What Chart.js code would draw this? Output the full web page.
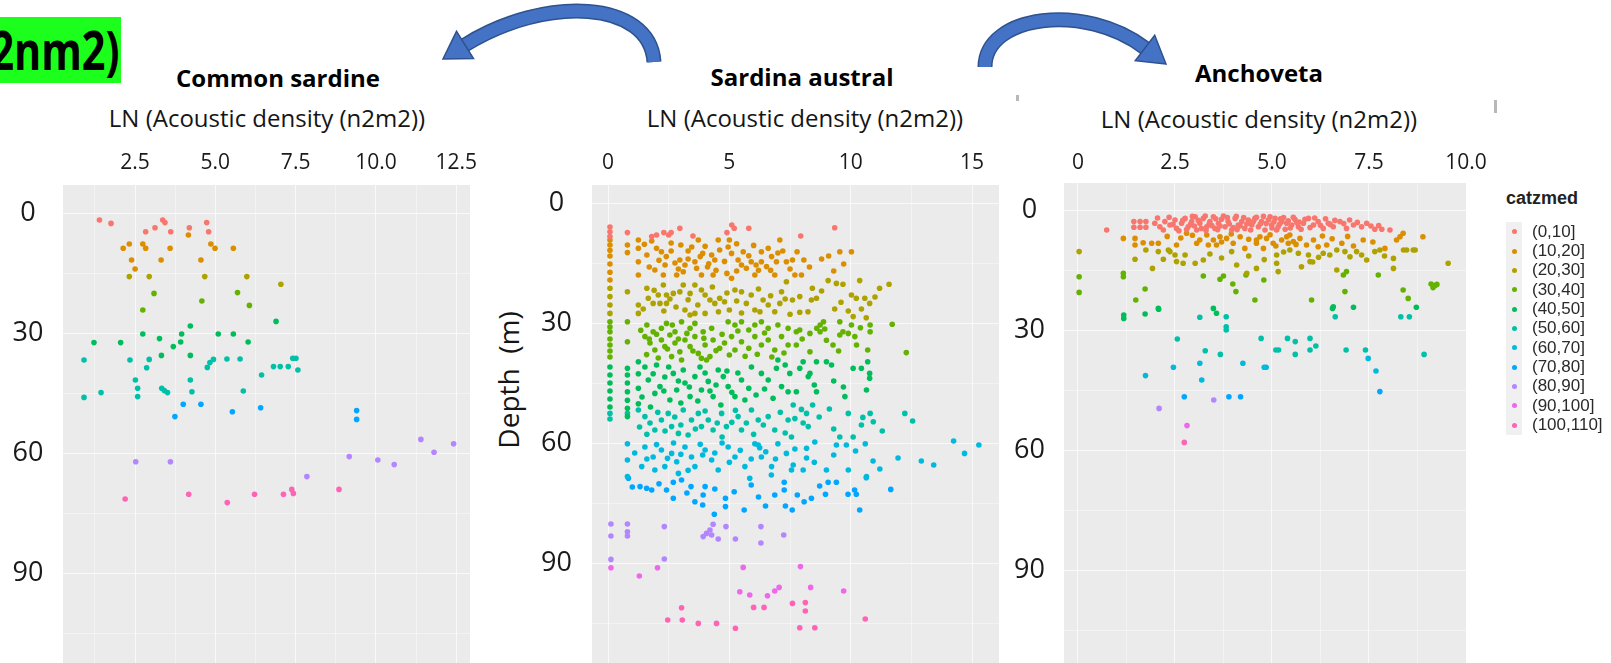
<!DOCTYPE html>
<html>
<head>
<meta charset="utf-8">
<title>Depth vs LN acoustic density</title>
<script src="https://cdn.jsdelivr.net/npm/chart.js@4.4.1/dist/chart.umd.min.js"></script>
<style>
  html, body { margin: 0; padding: 0; background: #fff; overflow: hidden; }
  body { width: 1611px; height: 663px; position: relative; font-family: "Open Sans", sans-serif; color: #111; }
  canvas { position: absolute; }
  .title { position: absolute; font-weight: 700; font-size: 24px; color: #000; transform: translate(-50%, -50%); white-space: nowrap; }
  .axtitle { position: absolute; font-size: 24px; color: #151515; transform: translate(-50%, -50%); white-space: nowrap; }
  #depth { position: absolute; left: 508px; top: 380px; font-size: 28px; color: #151515; transform: translate(-50%, -50%) rotate(-90deg); white-space: pre; }
  #tag { position: absolute; left: 0; top: 17px; width: 121px; height: 66px; background: #1cff1c; overflow: hidden; }
  #tag span { position: absolute; right: 2px; top: 0; line-height: 66px; font-size: 53px; font-weight: 700; color: #000; transform: scaleX(0.78); transform-origin: right center; white-space: nowrap; }
  .legtitle { position: absolute; left: 1506px; top: 188px; font-family: "Liberation Sans", Arial, sans-serif; font-weight: 700; font-size: 18px; color: #222; }
  .keybg { position: absolute; left: 1506px; top: 222px; width: 16px; height: 213px; background: #f0f0f0; }
  .keydot { position: absolute; width: 5px; height: 5px; border-radius: 50%; }
  .keytxt { position: absolute; left: 1532px; height: 20px; line-height: 20px; font-family: "Liberation Sans", Arial, sans-serif; font-size: 17px; color: #2a2a2a; white-space: nowrap; }
  .mark { position: absolute; background: #b8b8b8; }
</style>
</head>
<body>
<svg width="1611" height="663" style="position:absolute;left:0;top:0">
  <g fill="none" stroke-linecap="butt">
    <path d="M654,62 C650,0 545,-5 465,45" stroke="#2F528F" stroke-width="15"/>
    <path d="M654,62 C650,0 545,-5 465,45" stroke="#4472C4" stroke-width="12"/>
    <path d="M985,67 C985,15 1085,2 1145,48" stroke="#2F528F" stroke-width="15"/>
    <path d="M985,67 C985,15 1085,2 1145,48" stroke="#4472C4" stroke-width="12"/>
  </g>
  <polygon points="443,59 473.5,58.6 456.5,31.4" fill="#4472C4" stroke="#2F528F" stroke-width="1.5"/>
  <polygon points="1166,64 1135.3,60.7 1154.7,35.3" fill="#4472C4" stroke="#2F528F" stroke-width="1.5"/>
</svg>

<div id="tag"><span>2nm2)</span></div>

<div class="title" style="left:278px;top:77px">Common sardine</div>
<div class="title" style="left:802px;top:76px">Sardina austral</div>
<div class="title" style="left:1259px;top:72px">Anchoveta</div>

<div class="axtitle" style="left:267px;top:117px">LN (Acoustic density (n2m2))</div>
<div class="axtitle" style="left:805px;top:117px">LN (Acoustic density (n2m2))</div>
<div class="axtitle" style="left:1259px;top:118px">LN (Acoustic density (n2m2))</div>
<div id="depth">Depth  (m)</div>

<div class="mark" style="left:1016px;top:95px;width:3px;height:6px"></div>
<div class="mark" style="left:1494px;top:100px;width:3px;height:13px"></div>

<canvas id="sardine" width="500" height="563" style="left:0px;top:140px"></canvas>
<canvas id="austral" width="509" height="563" style="left:520px;top:140px"></canvas>
<canvas id="anchoveta" width="516" height="563" style="left:990px;top:140px"></canvas>

<div id="legend"></div>

<script>
//depth classes (catzmed) and their colours
const catLabels = ["(0,10]", "(10,20]", "(20,30]", "(30,40]", "(40,50]", "(50,60]", "(60,70]", "(70,80]", "(80,90]", "(90,100]", "(100,110]"];
const catColors = ["#F8766D", "#DB8E00", "#AEA200", "#64B200", "#00BD5C", "#00C1A7", "#00BADE", "#00A6FF", "#B385FF", "#EF67EB", "#FF63B6"];

//tick labels
const depthTicks = [0, 30, 60, 90];
const sardineTicks = [2.5, 5, 7.5, 10, 12.5];
const australTicks = [0, 5, 10, 15];
const anchovetaTicks = [0, 2.5, 5, 7.5, 10];

//points [LN density, depth], one list per depth class
const commonSardine = [
  [[1.39,1.75],[1.75,2.6],[2.83,4.7],[3.12,3.7],[3.36,1.75],[3.43,2.4],[3.61,4.7],[4.19,3.7],[4.73,2.4],[4.79,4.7]],
  [[4.16,5.5],[2.13,8.8],[2.32,7.75],[2.74,7.75],[2.83,8.8],[3.59,8.8],[4.86,7.75],[4.99,8.8],[5.56,8.8],[2.39,11.75],[3.31,11.75],[4.55,11.75],[2.5,14]],
  [[2.32,15.9],[2.94,15.9],[4.67,15.9],[5.98,15.9],[7.04,17.8]],
  [[3.09,20.1],[5.69,19.9],[4.58,22],[6.06,23.1],[2.74,24.25]],
  [[6.89,27.1],[4.22,28.25],[1.22,32.4],[2.05,32.4],[2.74,30.25],[3.26,31.4],[3.69,33.4],[3.95,30.25],[3.92,32.25],[5.09,30.25],[5.56,30.25],[6.02,32.25],[3.32,35.6],[4.22,35.6]],
  [[0.91,36.75],[0.91,46.1],[1.44,44.9],[2.34,36.75],[2.86,38.7],[2.94,36.6],[2.51,41.75],[2.58,43.8],[2.58,45.9],[3.33,43.8],[3.41,44.4],[3.51,44.9],[4.22,41.75],[4.27,44.7],[4.75,38.6],[4.83,37.4],[4.94,36.6],[5.36,36.5],[5.77,36.5],[5.87,44.5],[6.44,40.5],[6.81,38.4],[7.02,38.4],[7.27,38.4],[7.41,36.3],[7.51,36.3],[7.57,39.25]],
  [],
  [[4.0,47.8],[4.55,47.8],[3.74,50.9],[5.53,49.7],[6.41,48.7],[9.4,49.4],[9.4,51.6]],
  [[2.52,62.2],[3.6,62.2],[7.85,65.9],[9.17,60.9],[10.06,61.75],[10.57,62.9],[11.4,56.6],[11.81,59.8],[12.42,57.7]],
  [],
  [[2.19,71.5],[4.17,70.3],[5.37,72.4],[6.22,70.3],[7.12,70.3],[7.38,69.1],[7.43,70.1],[8.85,69.1]]
];

const sardinaAustral = [
  [[0.08,6],[0.08,7.2],[0.08,8.4],[0.8,7.4],[1.8,8.4],[2.0,8],[2.3,7.4],[2.5,8],[2.6,7.4],[2.96,6.3],[3.5,8.25],[4.9,7.4],[5.1,5.5],[5.2,6.3],[5.8,6.3],[7.94,8.25],[9.34,6.2]],
  [[0.08,9.25],[0.08,10.5],[0.08,11.8],[0.08,13.25],[0.08,15.25],[0.08,17.3],[0.08,19.25],[0.8,10.5],[0.8,12.4],[1.25,9.25],[1.25,11.3],[1.25,14.7],[1.25,18],[1.8,9.5],[2.0,11.3],[2.2,12.2],[2.4,13.4],[2.35,15.5],[2.76,15],[2.96,14.25],[3.17,15.5],[1.93,16.75],[2.28,18],[2.83,18],[3.1,17.2],[3.58,14.7],[3.65,16.3],[3.85,18],[3.72,9.25],[4.27,13],[4.4,14.25],[4.6,11.75],[4.54,9.25],[5.0,9.25],[5.09,12.6],[5.36,14.25],[5.5,15.5],[5.7,16.3],[5.57,12.2],[5.9,14.7],[6.05,18],[6.32,12.2],[6.6,11.3],[6.74,13.4],[6.94,14.7],[7.08,9.25],[7.35,14.7],[6.87,18],[4.9,17.6],[5.09,18.8],[4.33,18],[6.32,14.7],[6.53,15.9],[7.79,12.2],[7.6,14.25],[8.07,14.25],[9.09,13.25],[9.55,12.2],[10.03,12.2],[9.71,15.25],[7.7,18],[7.97,18],[3.0,10.5],[3.3,12.0],[4.0,10.8],[4.1,16.0],[5.3,10.2],[6.0,10.6],[6.2,16.8],[7.2,12.0],[2.6,10.0],[3.9,12.6],
   [1.5,10.3],[1.6,13.0],[1.7,16.0],[2.1,14.3],[2.6,12.0],[2.9,16.5],[3.3,14.0],[3.45,11.0],[3.8,13.4],[4.15,15.2],[4.45,16.8],[4.8,14.6],[4.95,11.0],[5.3,17.0],[5.8,13.2],[6.1,15.5],[6.7,16.8],[7.0,12.5],[7.5,16.5],[8.3,16.0],[8.8,14.0],[9.3,17.0]],
  [[0.08,21.3],[0.08,23.4],[0.08,25.5],[0.08,27.6],[0.8,22.2],[1.25,25.5],[1.25,27.6],[1.6,21.3],[1.66,23.8],[1.86,25.1],[2.07,23],[2.14,25.1],[2.41,23],[2.41,25.1],[2.69,22.6],[2.96,22.2],[3.1,20.5],[3.38,22.6],[3.58,20.5],[3.85,21.75],[4.0,23],[4.2,24.25],[4.4,25.1],[4.6,23.8],[4.8,24.7],[5.0,26.75],[3.17,26.75],[3.38,28],[3.58,27.6],[4.0,27.6],[5.23,21.75],[5.5,22.2],[5.7,25.1],[5.9,23],[6.05,26.75],[6.26,27.2],[6.39,24.25],[6.6,25.5],[6.87,27.2],[7.08,25.1],[7.35,19.7],[7.15,22.2],[2.28,20.5],[9.07,19.4],[9.41,20.1],[9.68,20.3],[10.37,19.4],[11.19,21.3],[11.58,20.3],[8.42,21.3],[7.9,23.4],[7.6,24.25],[8.38,24.25],[8.59,23.8],[10.03,23],[10.23,23.8],[10.58,23.8],[10.78,25.1],[9.34,26.5],[10.44,26.5],[7.9,27.3],[8.24,27.2],[10.1,28.4],[10.64,28.7],
   [1.45,26.5],[1.9,21.8],[2.3,27.0],[2.55,24.0],[2.8,26.0],[3.3,24.2],[3.7,25.5],[4.3,21.0],[4.55,27.2],[4.9,22.5],[5.3,24.5],[5.5,27.5],[6.2,21.5],[6.7,23.2],[7.3,24.0],[7.5,27.8],[8.8,22.0],[9.6,24.8],[9.9,27.0],[11.0,23.5]],
  [[0.08,29.7],[0.08,31],[0.08,32.2],[0.8,29.7],[1.6,30.5],[1.86,32.2],[2.2,31.3],[2.41,30.1],[2.76,32.2],[3.03,29.7],[3.38,31.3],[3.58,30.1],[3.92,32.2],[4.27,31.3],[4.95,29.7],[5.23,30.5],[5.5,29.7],[5.8,31.75],[6.05,30.5],[6.32,29.7],[6.6,31.3],[7.0,30.5],[7.42,31.3],[8.74,30.5],[8.88,29.7],[8.6,31.3],[8.93,31.5],[9.55,29.7],[10.03,30.5],[10.8,30.5],[11.71,30.3],[7.76,32.2],[9.68,32.2],[0.08,34],[0.08,35.5],[0.08,37],[0.08,38.5],[0.8,34.7],[1.52,33.4],[1.73,35],[1.93,36.75],[2.2,34.25],[2.34,35.9],[2.55,33],[2.76,35],[2.96,37.2],[3.17,34.25],[3.38,35.9],[3.58,33.4],[3.72,37.6],[4.0,35.5],[4.2,38.4],[4.33,34.25],[4.6,36.3],[4.8,35],[5.09,33.4],[5.23,36.75],[5.5,34.7],[5.8,36.3],[6.05,33.4],[6.32,35.5],[6.6,34.25],[6.87,36.75],[7.15,33.4],[7.42,35.5],[3.85,38.8],[4.06,39.25],[2.07,38.75],[2.62,38.4],[1.59,37.9],[3.03,39.25],[7.9,31.75],[8.32,32.6],[8.74,32.2],[9.55,33],[9.9,32.6],[10.17,33.4],[9.27,35.5],[10.24,35.5],[10.8,32.2],[7.76,35.5],[8.32,37.2],[10.7,36.75],[12.29,37.4],
   [1.35,31.8],[1.7,34.0],[2.0,32.8],[2.45,36.5],[2.65,30.5],[2.9,34.0],[3.25,32.6],[3.5,37.0],[3.95,33.8],[4.45,36.9],[4.7,32.8],[5.0,38.0],[5.35,32.0],[5.65,38.3],[6.15,37.8],[6.45,32.5],[6.75,38.5],[7.25,37.5],[8.0,34.0],[9.0,34.3],[9.5,37.0],[10.4,31.2]],
  [[0.08,41],[0.08,43],[0.08,45],[0.08,47],[0.08,49],[0.08,51],[0.8,41.3],[0.8,43],[0.8,45],[0.8,47.2],[0.8,49.3],[0.8,51.3],[0.8,53.4],[1.25,39.7],[1.25,42.7],[1.25,46.3],[1.25,50.2],[1.52,41],[1.66,44.25],[1.86,42.7],[1.93,47.6],[2.14,45.9],[2.34,43.5],[2.55,49.25],[2.69,42.6],[2.83,46.75],[3.1,41.75],[3.17,45],[3.38,48.4],[3.58,43.4],[3.79,41],[3.85,46.75],[4.13,44.6],[4.33,48.4],[4.54,41.75],[4.75,43.4],[4.95,45.9],[5.23,48.4],[5.5,44.25],[5.64,49.25],[5.91,41],[6.32,42.6],[6.6,44.25],[6.94,41.3],[7.15,45.9],[7.42,47.2],[7.0,39.25],[7.49,42.6],[8.04,39.7],[8.59,39.7],[9.0,39.7],[9.21,40.5],[10.1,41.3],[10.44,41.3],[10.7,39.7],[10.78,42.6],[10.78,43.8],[7.9,41.3],[8.32,42.6],[8.25,43.4],[7.76,47.2],[8.59,47.2],[9.76,48.4],[10.65,46.75],
   [1.4,48.5],[1.75,51.0],[2.0,40.5],[2.3,47.0],[2.5,41.0],[2.9,44.5],[3.0,50.0],[3.35,46.0],[3.7,49.5],[4.0,42.5],[4.2,47.0],[4.45,45.5],[4.65,50.5],[4.9,42.0],[5.1,47.3],[5.35,42.5],[5.8,46.3],[6.1,48.0],[6.45,46.5],[6.8,48.8],[7.3,40.5],[8.5,45.5],[9.3,44.5],[9.7,46.0]],
  [[0.08,52.6],[0.08,54],[0.8,52.6],[1.25,51.75],[1.52,53.4],[1.73,55],[1.93,56.75],[2.2,54.25],[2.48,52.6],[2.62,55.9],[2.9,57.6],[3.1,51.75],[3.44,54.25],[3.72,52.6],[3.85,55.9],[4.13,54.25],[4.33,56.75],[4.68,52.6],[4.88,55.9],[5.36,53.4],[5.5,56.75],[5.91,51.75],[6.19,54.25],[6.6,53.4],[6.87,56.75],[7.42,54.25],[7.63,50.5],[7.97,51.6],[8.43,50.5],[9.12,51.5],[7.7,53.9],[8.04,55],[8.18,52.6],[8.25,55.9],[9.9,52.6],[10.8,52.6],[10.5,53.6],[10.93,54.7],[10.44,55.5],[12.23,52.6],[12.55,54.5],[7.56,58.5],[9.55,58.5],[10.1,58.5],
   [1.3,56.0],[1.6,57.8],[2.05,52.3],[2.35,57.0],[2.75,53.5],[3.0,55.5],[3.3,58.0],[3.6,56.5],[4.0,52.0],[4.5,55.0],[4.7,58.5],[5.1,54.8],[5.25,51.8],[5.7,55.0],[6.0,57.8],[6.4,55.5],[7.1,52.3],[7.3,57.5],[8.7,53.5],[9.3,56.5],[11.3,57.0]],
  [[0.8,60.2],[0.8,64.25],[1.52,61],[1.86,63.5],[2.2,61.75],[2.34,65.9],[2.62,62.6],[2.83,64.7],[3.17,61],[3.44,63.5],[3.58,65.9],[4.0,61.75],[4.27,64.25],[4.54,66.75],[4.95,61],[5.23,63.5],[5.64,65.9],[6.05,60.2],[6.19,60.5],[6.25,61.2],[6.32,63.5],[6.74,65.9],[7.0,60.2],[7.35,62.6],[7.56,66.75],[1.93,66.75],[2.9,67.6],[1.39,65.9],[0.8,68.4],[8.52,59.75],[9.41,60.5],[9.82,60.5],[8.18,61.3],[8.18,63.75],[14.24,59.5],[15.28,60.5],[14.69,62.6],[11.95,63.75],[12.91,64.5],[13.42,65.5],[10.92,64.5],[7.63,65.5],[8.04,66.75],[9.0,66.75],[9.9,66.75],[10.65,68.4],[5.84,68.8],[6.73,68],[10.64,68.7],
   [1.1,62.5],[1.6,64.0],[2.0,60.4],[2.45,63.8],[2.7,60.0],[3.0,62.8],[3.3,66.8],[3.8,60.3],[3.9,63.0],[4.4,62.5],[4.7,60.0],[5.0,64.8],[5.45,61.8],[5.9,64.0],[6.5,62.2],[6.9,64.0],[7.7,61.5],[8.5,64.8],[9.3,63.0],[10.2,62.0],[10.6,60.2],[11.2,66.5]],
  [[0.84,68.8],[1.32,70.9],[1.59,71.3],[1.8,71.75],[2.41,71.75],[2.69,73.8],[2.69,69.8],[3.03,69.25],[3.42,70.9],[3.58,74.7],[3.92,73],[4.0,70.9],[4.84,73.8],[4.84,75.9],[4.38,77.8],[5.61,76.75],[6.49,75.75],[6.87,73],[7.26,69.8],[7.26,71.75],[7.31,75.75],[7.59,76.75],[8.08,74.7],[8.38,73.8],[8.72,70.75],[9.07,69.8],[9.41,69.8],[8.96,72.8],[9.89,72.8],[10.16,71.75],[10.23,72.8],[10.37,76.75],[11.65,71.6],
   [1.0,71.0],[2.1,70.2],[3.25,72.5],[4.4,71.5],[5.2,72.2],[5.9,70.5],[6.2,73.5],[7.8,73.0],[3.9,75.5]],
  [[0.12,80.25],[0.12,83.25],[0.8,80.25],[0.8,82.2],[0.8,83.25],[2.32,80.9],[3.92,83.4],[4.06,82.6],[4.2,81.75],[4.33,80.3],[4.27,83],[4.54,84],[4.86,80.9],[5.25,84],[6.3,80.9],[6.3,85],[7.24,83],[0.12,89.1],[2.32,89]],
  [[0.12,91.2],[2.04,91.2],[1.29,93.25],[5.57,91.1],[7.93,90.9],[5.43,97.2],[5.84,98],[6.57,98.2],[6.87,97],[7.05,96.1],[8.35,96.1],[9.71,97]],
  [[6.0,101.1],[6.43,101.1],[7.6,100.1],[8.13,99.9],[8.13,102],[3.03,101.2],[2.46,104.25],[3.06,104.25],[3.72,105.1],[4.47,105.1],[5.25,106.3],[7.9,106.2],[8.52,106.2],[10.6,104]]
];

const anchoveta = [
  [[0.74,5],[1.44,2.9],[1.44,4.3],[1.6,2.9],[1.6,4.3],[1.75,2.9],[1.75,4.3],[1.98,3.3],[2.11,4.2],[2.24,2.9],[2.37,3.75],[2.5,2.5],[2.54,4.6],[2.67,3.3],[2.76,2.1],[2.84,4.2],[2.93,2.9],[3.02,1.7],[3.06,5],[3.14,3.3],[3.23,2.1],[3.32,4.2],[3.4,2.9],[3.49,1.7],[3.53,4.6],[3.62,3.3],[3.7,2.3],[3.79,4.2],[3.87,2.9],[3.96,5],[4.05,2.1],[4.13,3.75],[4.22,2.9],[4.3,4.6],[4.39,2.5],[4.48,3.75],[4.56,2.1],[4.65,4.2],[4.73,2.9],[4.82,5],[4.91,2.5],[4.99,3.75],[5.08,2.1],[5.16,4.2],[5.25,2.9],[5.34,4.8],[5.42,2.7],[5.51,3.75],[5.59,2.3],[5.68,4.2],[5.81,3.3],[5.94,2.1],[6.07,3.75],[6.19,2.9],[6.32,4.6],[6.45,3.3],[6.58,4.2],[6.75,2.9],[6.92,4.6],[7.1,3.75],[7.31,4.2],[7.44,3.3],[7.65,4.8],[7.83,4.8],[8.04,5],[3.1,2.6],[3.45,3.9],[3.85,1.9],[4.1,4.9],[4.6,1.8],[4.4,3.2],[5.0,4.5],[5.3,1.9],[5.7,3.0],[5.2,3.5],[3.6,4.9],[2.9,3.6],[4.85,3.4],[3.3,5.1],
   [2.05,2.0],[2.2,5.0],[2.35,1.8],[2.45,3.6],[2.6,5.2],[2.7,2.6],[2.8,4.9],[2.95,1.6],[3.0,4.0],[3.18,4.6],[3.28,1.5],[3.38,3.5],[3.55,2.2],[3.66,4.0],[3.75,1.5],[3.9,3.5],[4.0,4.4],[4.08,1.6],[4.18,4.0],[4.27,1.9],[4.35,3.5],[4.45,5.0],[4.52,2.9],[4.7,3.5],[4.78,1.6],[4.95,1.7],[5.05,3.0],[5.12,5.0],[5.22,2.2],[5.38,3.3],[5.47,4.5],[5.55,1.8],[5.64,3.1],[5.75,4.8],[5.85,2.3],[5.98,4.4],[6.1,2.0],[6.25,3.8],[6.38,2.2],[6.5,3.6],[6.62,2.6],[6.85,3.4],[7.0,2.5],[7.2,3.1],[7.55,4.0],[7.75,3.9]],
  [[1.17,7.1],[1.47,7.1],[1.47,8.75],[1.68,8.2],[1.9,8.3],[2.07,8.3],[2.54,8.75],[2.8,5.8],[3.06,8.3],[3.32,6.25],[3.49,7.5],[3.57,8.75],[3.83,7.1],[4.0,8.3],[4.18,6.7],[4.3,9.6],[4.6,8.3],[4.69,6.7],[4.78,9.6],[5.38,6.7],[5.42,8.3],[5.55,7.9],[5.72,7.1],[5.89,8.75],[6.07,7.5],[6.19,9.2],[6.41,8.75],[6.8,8.3],[7.35,7.5],[7.91,9.6],[8.21,7.5],[8.3,6.7],[8.38,5.8],[3.14,7.5],[3.36,8.75],[3.66,6.7],[4.6,7.5],[4.86,7.1],[5.03,8.3],[5.25,7.5],[5.46,6.25],[8.89,6.7],
   [2.3,6.6],[2.65,7.0],[2.95,6.3],[3.7,8.0],[3.95,6.0],[4.4,7.3],[4.95,6.2],[5.1,9.0],[5.62,8.6],[6.3,6.5],[6.55,7.2],[6.95,6.6],[7.1,9.0],[7.6,8.0]],
  [[0.03,10.4],[1.47,12.3],[1.75,10],[2.07,10.4],[1.92,14.6],[2.2,12.3],[2.37,10.4],[2.5,11.25],[2.76,11.25],[2.71,13.3],[3.02,13.3],[3.23,12.5],[3.96,10.4],[4.09,13.75],[4.35,15.8],[4.6,14.6],[5.12,11.25],[5.16,15.4],[5.46,10],[5.68,10.8],[5.94,11.25],[5.76,14.2],[5.98,12.9],[6.32,10.8],[6.49,11.25],[6.67,10],[6.67,15],[6.88,10.4],[7.01,11.7],[7.18,10.4],[7.31,11.25],[7.44,12.5],[7.65,10.4],[7.78,10],[8.13,12.1],[8.13,14.6],[8.47,10],[8.69,10],[5.12,13.3],[2.54,12.9],[2.33,10],[9.54,13.3],[8.64,10],[8.39,10],
   [3.4,11.0],[3.7,12.0],[4.4,11.5],[4.8,12.4],[5.3,10.5],[6.05,13.0],[6.2,11.8],[7.9,11.5]],
  [[0.03,16.7],[0.03,20.6],[1.17,15.8],[1.17,16.7],[1.73,19.75],[1.49,22.5],[3.23,16.5],[3.66,17.3],[3.75,16.5],[3.99,18.5],[4.07,20.4],[4.33,16.25],[4.79,17.5],[4.56,22.5],[6.02,22.5],[6.84,16.25],[6.88,20.4],[6.92,15.4],[7.74,16.25],[8.38,20],[8.51,22.1],[9.1,18.5],[9.2,18.9],[9.15,19.4],[9.25,18.6]],
  [[2.07,24.6],[3.49,24.6],[6.58,24.2],[7.1,24.3],[8.72,24.3],[1.18,26.25],[1.18,27.1],[1.73,26],[2.08,24.8],[3.57,25.8],[6.56,24.6]],
  [[3.14,26.8],[3.82,26.7],[3.82,29.2],[3.82,30],[2.56,32.25],[3.28,35.2],[3.67,36.1],[4.72,32.1],[5.1,35],[5.17,35],[5.4,32.1],[5.6,32.9],[5.6,36.1],[5.98,32.1],[5.98,35],[6.13,34],[6.63,26.7],[6.91,35],[7.41,35],[8.32,26.7],[8.54,26.7],[8.92,36.1]],
  [[1.74,41.4],[2.46,39.3],[3.14,38.3],[3.19,42.5],[4.25,38.3],[4.8,39.3],[4.85,39.3],[7.48,37.1],[7.68,40.25]],
  [[2.74,46.7],[3.89,46.7],[4.19,46.7],[7.78,45.4]],
  [[2.09,49.6],[3.5,47.5]],
  [[2.81,53.9]],
  [[2.74,58.1]]
];

//grey ggplot-like panel background
const panelBg = {
  id: "panelBg",
  beforeDraw(chart) {
    const a = chart.chartArea;
    const ctx = chart.ctx;
    ctx.save();
    ctx.fillStyle = "#EBEBEB";
    ctx.fillRect(a.left, a.top, a.right - a.left, a.bottom - a.top);
    ctx.restore();
  },
};

//major ticks plus a minor grid line half way between them
const withMinor = (list, min, max) => {
  const step = list[1] - list[0];
  const out = [list[0] - step / 2];
  list.forEach((v) => { out.push(v, v + step / 2); });
  return out.filter((v) => v >= min && v <= max);
};

const gridStyle = (labels) => ({
  drawTicks: false,
  color: (c) => labels.includes(c.tick.value) ? "rgba(255,255,255,0.7)" : "rgba(255,255,255,0.4)",
  lineWidth: 1,
});

function drawPanel(id, points, xTicks, fmt, box) {
  const datasets = catLabels.map((label, i) => ({
    label: label,
    data: points[i].map((p) => ({ x: p[0], y: p[1] })),
    backgroundColor: catColors[i],
    pointRadius: 2.8,
    pointBorderWidth: 0,
  }));
  return new Chart(document.getElementById(id), {
    type: "scatter",
    data: { datasets: datasets },
    options: {
      responsive: false,
      animation: false,
      //bottom padding has to cover the y tick padding as well
      layout: { padding: { right: box.padRight, bottom: 40 } },
      plugins: { legend: { display: false }, tooltip: { enabled: false } },
      scales: {
        x: {
          type: "linear",
          position: "top",
          min: box.xMin,
          max: box.xMax,
          afterFit: (s) => { s.height = box.axisH; },
          afterBuildTicks: (s) => { s.ticks = withMinor(xTicks, box.xMin, box.xMax).map((v) => ({ value: v })); },
          ticks: {
            padding: box.xPad,
            autoSkip: false,
            maxRotation: 0,
            color: "#1a1a1a",
            font: { family: "Open Sans", size: 21 },
            callback: (v) => xTicks.includes(v) ? fmt(v) : "",
          },
          grid: gridStyle(xTicks),
          border: { display: false },
        },
        y: {
          type: "linear",
          reverse: true,
          min: box.yMin,
          max: box.yMax,
          afterFit: (s) => { s.width = box.axisW; },
          afterBuildTicks: (s) => { s.ticks = withMinor(depthTicks, box.yMin, box.yMax).map((v) => ({ value: v })); },
          ticks: {
            padding: box.yPad,
            crossAlign: "center",
            autoSkip: false,
            color: "#1a1a1a",
            font: { family: "Open Sans", size: 27 },
            callback: (v) => depthTicks.includes(v) ? String(v) : "",
          },
          grid: gridStyle(depthTicks),
          border: { display: false },
        },
      },
    },
    plugins: [panelBg],
  });
}

drawPanel("sardine", commonSardine, sardineTicks, (v) => v.toFixed(1),
  { xMin: 0.255, xMax: 12.93, yMin: -7, yMax: 112.5, axisW: 63, axisH: 45, xPad: 9.4, yPad: 19.5, padRight: 30 });
drawPanel("austral", sardinaAustral, australTicks, (v) => String(v),
  { xMin: -0.66, xMax: 16.11, yMin: -4.5, yMax: 115, axisW: 72, axisH: 45, xPad: 9.4, yPad: 20, padRight: 30 });
drawPanel("anchoveta", anchoveta, anchovetaTicks, (v) => v === 0 ? "0" : v.toFixed(1),
  { xMin: -0.36, xMax: 10, yMin: -6.75, yMax: 113.25, axisW: 74, axisH: 43, xPad: 7.4, yPad: 19, padRight: 40 });

//legend for the depth classes
const legend = document.getElementById("legend");
legend.innerHTML = '<div class="legtitle">catzmed</div><div class="keybg"></div>';
catLabels.forEach((label, i) => {
  const cy = 231.7 + i * 19.33;
  const dot = document.createElement("div");
  dot.className = "keydot";
  dot.style.left = "1511.5px";
  dot.style.top = (cy - 2.5) + "px";
  dot.style.background = catColors[i];
  legend.appendChild(dot);
  const txt = document.createElement("div");
  txt.className = "keytxt";
  txt.style.top = (cy - 10) + "px";
  txt.textContent = label;
  legend.appendChild(txt);
});
</script>
</body>
</html>
